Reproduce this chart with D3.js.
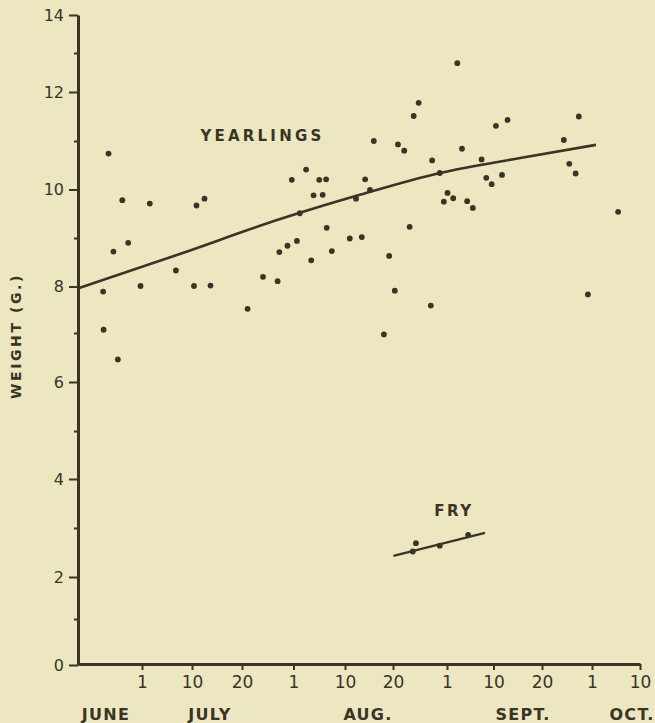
<!DOCTYPE html>
<html>
<head>
<meta charset="utf-8">
<script src="https://cdn.jsdelivr.net/npm/d3@7/dist/d3.min.js"></script>
<style>
  html, body { margin: 0; padding: 0; background: #ece7c1; }
  svg { display: block; }
  text { font-family: "DejaVu Sans", sans-serif; fill: #3a3326; }
</style>
</head>
<body>
<svg id="chart" width="655" height="723"></svg>
<script>
// ---- data (dates as "month/day", day may be fractional) ----
const yearlingDates = [
  "6/23.1","6/23.2","6/24.2","6/25.2","6/26.1","6/27.0","6/28.2","6/30.7",
  "7/2.4","7/7.1","7/10.4","7/10.9","7/12.5","7/13.7","7/21.3","7/24.9",
  "7/28.3","7/28.7","7/30.6","7/31.6","8/1.6","8/2.1","8/3.2","8/4.1",
  "8/4.5","8/5.5","8/6.1","8/6.7","8/6.8","8/7.7","8/11.0","8/12.3",
  "8/13.5","8/14.2","8/15.2","8/16.0","8/18.1","8/19.2","8/20.4","8/21.1",
  "8/22.5","8/23.7","8/24.6","8/25.7","8/28.4","8/28.7","8/30.4","8/31.3",
  "9/1.1","9/2.2","9/3.0","9/3.9","9/4.9","9/6.0","9/7.7","9/8.6",
  "9/9.65","9/10.5","9/11.75","9/12.9","9/24.8","9/26.0","9/27.4","9/28.1",
  "9/30.1","10/5.9"
];
const yearlingWeights = [
  7.89,7.07,10.74,8.72,6.46,9.78,8.90,8.01,
  9.71,8.33,8.01,9.67,9.81,8.02,7.52,8.20,
  8.11,8.71,8.84,10.20,8.94,9.51,10.41,8.54,
  9.88,10.20,9.89,10.21,9.21,8.73,8.99,9.81,
  9.02,10.21,9.99,11.00,6.97,8.63,7.91,10.93,
  10.80,9.23,11.51,11.78,7.59,10.60,10.34,9.75,
  9.93,9.82,12.74,10.84,9.76,9.62,10.62,10.24,
  10.11,11.31,10.30,11.43,11.02,10.53,10.33,11.50,
  7.83,9.54
];
const yearlingCurveDates   = ["6/18","7/7.8","7/28.9","8/13.1","8/30.4","9/15.5","10/1.75"];
const yearlingCurveWeights = [7.96, 8.67, 9.39, 9.89, 10.34, 10.65, 10.92];

const fryDates   = ["8/24.4","8/25.1","8/30.4","9/5.1"];
const fryWeights = [2.52, 2.69, 2.64, 2.86];
const fryLineDates   = ["8/20.1","9/8.35"];
const fryLineWeights = [2.43, 2.90];

const xTickDates  = ["7/1","7/10","7/20","8/1","8/10","8/20","9/1","9/10","9/20","10/1","10/10"];
const xTickLabels = ["1","10","20","1","10","20","1","10","20","1","10"];
const monthLabels = ["JUNE","JULY","AUG.","SEPT.","OCT."];
const monthLabelDates = ["6/23.7","7/13.6","8/14.8","9/16.1","10/8.5"];
const yMajorTicks = [0,2,4,6,8,10,12,14];
const yMinorTicks = [1,3,5,7,9,11,13];

// ---- helpers ----
function parseMD(s) {
  const [m, d] = s.split("/").map(Number);
  return new Date(1950, m - 1, 1, 0, 0, 0).getTime() + (d - 1) * 86400000;
}
const ink = "#3a3326";
const svg = d3.select("#chart");

// hand-drawn axes: piecewise scales through the tick positions
const x = d3.scaleTime()
  .domain(["6/18", ...xTickDates].map(s => new Date(parseMD(s))))
  .range([78, 142, 192, 242, 293.5, 345, 393, 447, 493.5, 542, 592, 640]);
const y = d3.scaleLinear()
  .domain(d3.range(0, 15))
  .range([665, 619, 577, 528, 479, 431, 382, 333, 286.5, 238, 189.5, 141, 92, 53, 15]);

const X = s => x(new Date(parseMD(s)));

// ---- axes ----
const yAxis = d3.axisLeft(y).tickValues(yMajorTicks).tickSize(9).tickSizeOuter(0)
  .tickPadding(5).tickFormat(d3.format("d"));
const gy = svg.append("g").attr("transform", "translate(78,0)").call(yAxis);
gy.select(".domain").attr("stroke", ink).attr("stroke-width", 3);
gy.selectAll(".tick line").attr("stroke", ink).attr("stroke-width", 2);
gy.selectAll(".tick text").attr("font-size", 16).attr("fill", ink).attr("dy", "0.34em")
  .style("font-family", "'DejaVu Sans', sans-serif");
const gym = svg.append("g").attr("transform", "translate(78,0)")
  .call(d3.axisLeft(y).tickValues(yMinorTicks).tickSize(4).tickFormat(""));
gym.select(".domain").remove();
gym.selectAll(".tick line").attr("stroke", ink).attr("stroke-width", 2);

const xAxis = d3.axisBottom(x)
  .tickValues(xTickDates.map(s => new Date(parseMD(s))))
  .tickSize(6).tickSizeOuter(0).tickPadding(6)
  .tickFormat((d, i) => xTickLabels[i]);
const gx = svg.append("g").attr("transform", "translate(0,664)").call(xAxis);
gx.select(".domain").attr("stroke", ink).attr("stroke-width", 3);
gx.selectAll(".tick line").attr("stroke", ink).attr("stroke-width", 2);
gx.selectAll(".tick text").attr("font-size", 17).attr("fill", ink)
  .style("font-family", "'DejaVu Sans', sans-serif");

// month labels
svg.append("g").selectAll("text").data(monthLabels).join("text")
  .attr("x", (d, i) => X(monthLabelDates[i]))
  .attr("y", 720)
  .attr("text-anchor", "middle")
  .attr("font-size", 16).attr("font-weight", "bold")
  .attr("letter-spacing", 1.3)
  .text(d => d);

// y title
svg.append("text")
  .attr("transform", "translate(21,336) rotate(-90)")
  .attr("text-anchor", "middle")
  .attr("font-size", 14).attr("font-weight", "bold")
  .attr("letter-spacing", 2.6)
  .text("WEIGHT (G.)");

// ---- yearling curve and points ----
const line = d3.line().x(d => X(d[0])).y(d => y(d[1])).curve(d3.curveMonotoneX);
svg.append("path")
  .datum(yearlingCurveDates.map((d, i) => [d, yearlingCurveWeights[i]]))
  .attr("d", line).attr("fill", "none").attr("stroke", ink).attr("stroke-width", 2.6);

svg.append("g").selectAll("circle").data(yearlingDates).join("circle")
  .attr("cx", d => X(d))
  .attr("cy", (d, i) => y(yearlingWeights[i]))
  .attr("r", 2.9).attr("fill", ink);

// ---- fry ----
svg.append("path")
  .datum(fryLineDates.map((d, i) => [d, fryLineWeights[i]]))
  .attr("d", d3.line().x(d => X(d[0])).y(d => y(d[1])))
  .attr("fill", "none").attr("stroke", ink).attr("stroke-width", 2.2);
svg.append("g").selectAll("circle").data(fryDates).join("circle")
  .attr("cx", d => X(d))
  .attr("cy", (d, i) => y(fryWeights[i]))
  .attr("r", 2.9).attr("fill", ink);

// series labels
svg.append("text").attr("x", 262.5).attr("y", 140.5).attr("text-anchor", "middle")
  .attr("font-size", 15).attr("font-weight", "bold").attr("letter-spacing", 3.2)
  .text("YEARLINGS");
svg.append("text").attr("x", 454).attr("y", 516).attr("text-anchor", "middle")
  .attr("font-size", 15).attr("font-weight", "bold").attr("letter-spacing", 2.5)
  .text("FRY");
</script>
</body>
</html>
